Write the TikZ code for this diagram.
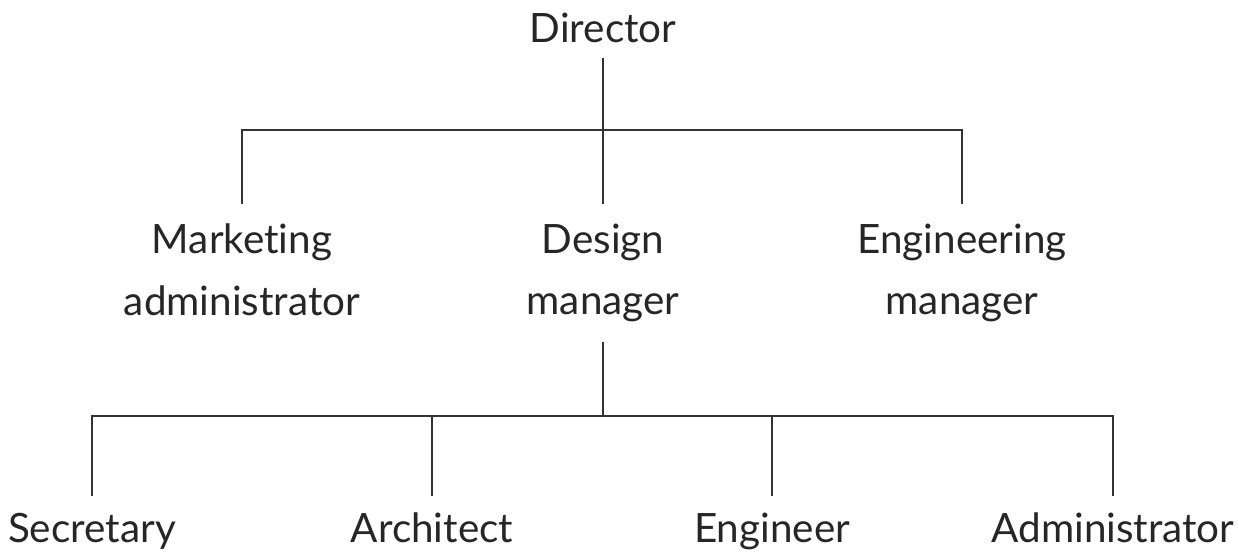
\documentclass[tikz,border=0pt]{standalone}
\usepackage{fontspec}
\setmainfont{Lato}[Ligatures={NoCommon}]
\usetikzlibrary{positioning,calc}

\begin{document}
\begin{tikzpicture}[
  person/.style={font=\fontsize{23}{35}\selectfont, align=center, inner sep=0pt, text=black!85},
  top/.style={person, outer ysep=0.3cm},
  mid/.style={person, outer ysep=0.4cm},
  low/.style={person, outer ysep=0.35cm},
  link/.style={line width=1.2pt, draw=black!80}
]
\useasboundingbox (0,0) rectangle (24.78,11.12);
% top
\node[top, anchor=base] (dir) at (12.06,10.26) {Director};
% second row
\node[mid, anchor=north] (mkt) at (4.84,7.04) {Marketing\\administrator};
\node[mid, anchor=north] (dsg) at (12.06,7.04) {Design\\manager};
\node[mid, anchor=north] (eng) at (19.24,7.04) {Engineering\\manager};
% third row
\node[low, anchor=base] (sec) at (1.84,0.26) {Secretary};
\node[low, anchor=base] (arc) at (8.64,0.26) {Architect};
\node[low, anchor=base] (eng2) at (15.44,0.26) {Engineer};
\node[low, anchor=base] (adm) at (22.26,0.26) {Administrator};
% buses
\coordinate (top bus) at (12.06,8.52);
\coordinate (low bus) at (12.06,2.80);
\draw[link] (dir) -- (dsg);
\draw[link] (mkt) |- (top bus) -| (eng);
\draw[link] (dsg) -- (low bus);
\draw[link] (sec) |- (low bus) -| (adm);
\draw[link] (arc) -- (arc |- low bus);
\draw[link] (eng2) -- (eng2 |- low bus);
\end{tikzpicture}
\end{document}
